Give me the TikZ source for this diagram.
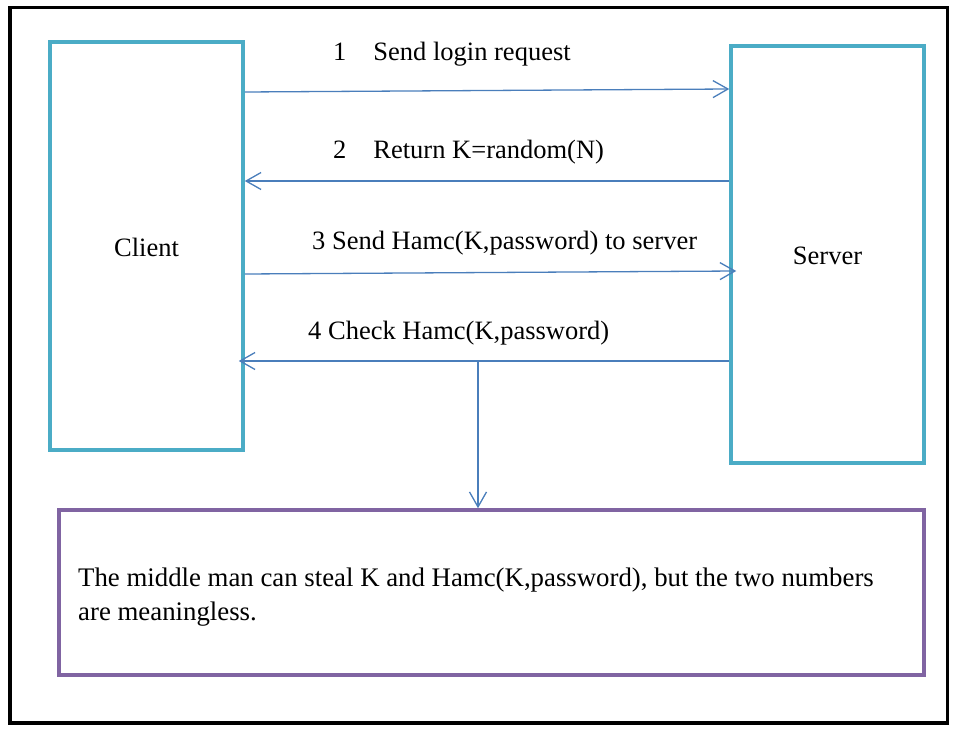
\documentclass[tikz,border=0pt]{standalone}
\usepackage{fontspec}
\setmainfont{Liberation Serif}
\usetikzlibrary{arrows.meta}
\definecolor{boxteal}{HTML}{4BACC6}
\definecolor{notepurple}{HTML}{8064A2}
\definecolor{arrowblue}{HTML}{4A7EBB}
\tikzset{
  tealbox/.style={draw=boxteal, line width=3.5bp, inner sep=0pt, rectangle},
  notebox/.style={draw=notepurple, line width=3.5bp, inner sep=0pt, rectangle},
  msg/.style={draw=arrowblue, line width=1.3bp, -{Straight Barb[length=15bp,width=17bp,line width=1.3bp]}},
  lbl/.style={anchor=base west, inner sep=0pt, font=\fontsize{26.5bp}{34bp}\selectfont},
}
\begin{document}
\begin{tikzpicture}[x=1bp,y=-1bp]
\useasboundingbox (0,0) rectangle (963,730);
\node[draw=black, line width=3.5bp, minimum width=937.5bp, minimum height=715.5bp, inner sep=0pt] (frame) at (478.75,365.25) {};
\node[tealbox, minimum width=193bp, minimum height=408bp] (client) at (146.5,246) {};
\node[tealbox, minimum width=193bp, minimum height=417bp] (server) at (827.5,254.5) {};
\node[notebox, minimum width=865bp, minimum height=165bp] (note) at (491.5,592.5) {};
\node[lbl, anchor=base] (clientlbl) at (146.5,256) {Client};
\node[lbl, anchor=base] (serverlbl) at (827.5,264) {Server};
\node[lbl] (l1) at (333,61) {1\hspace{27bp}Send login request};
\node[lbl] (l2) at (333,159) {2\hspace{27bp}Return K=random(N)};
\node[lbl] (l3) at (312,249) {3 Send Hamc(K,password) to server};
\node[lbl] (l4) at (308,339) {4 Check Hamc(K,password)};
\node[lbl, align=left, anchor=base west, font=\fontsize{26.8bp}{34bp}\selectfont] (notetext) at (78,620) {The middle man can steal K and Hamc(K,password), but the two numbers\\are meaningless.};
\draw[msg] (client.east |- 0,92) -- (server.west |- 0,89);
\draw[msg] (server.west |- 0,181) -- (client.east |- 0,181);
\draw[msg] (client.east |- 0,274) -- ([xshift=7bp]server.west |- 0,271);
\draw[msg] (server.west |- 0,361) -- ([xshift=-6bp]client.east |- 0,361);
\coordinate (split) at (478,361);
\draw[msg] (split) -- (note.north -| split);
\end{tikzpicture}
\end{document}
